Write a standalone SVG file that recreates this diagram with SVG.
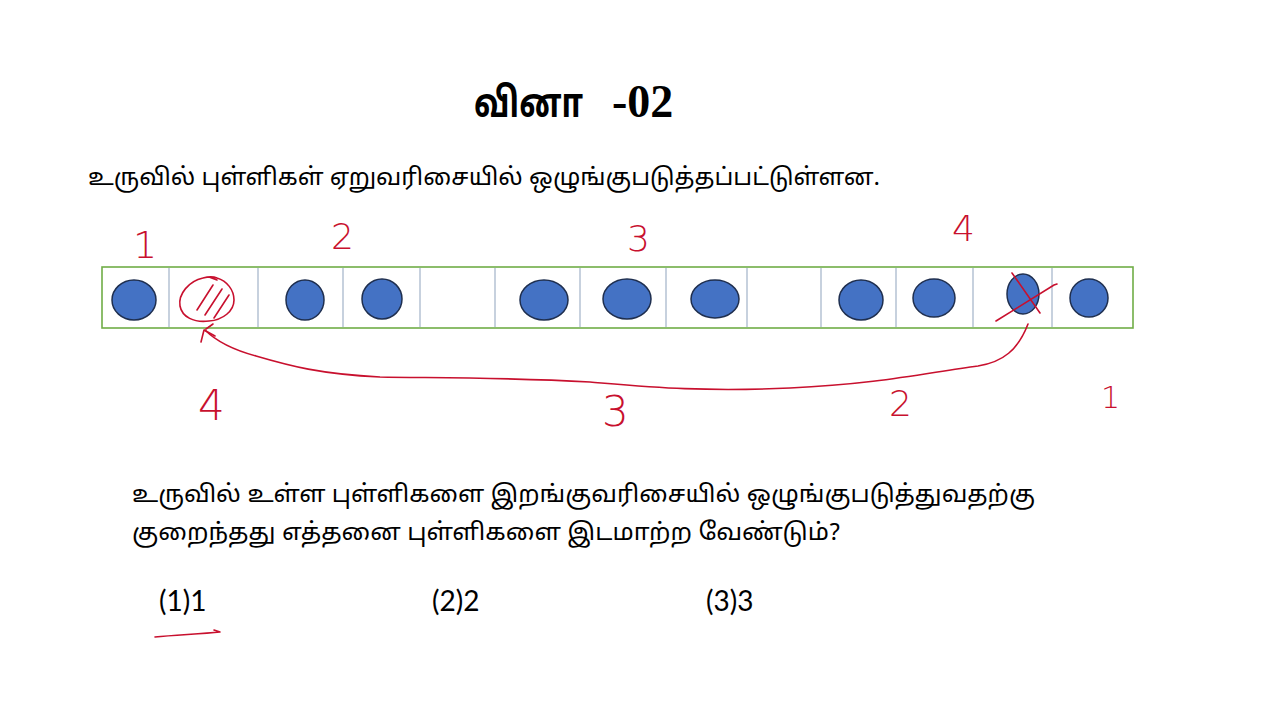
<svg xmlns="http://www.w3.org/2000/svg" width="1280" height="720" viewBox="0 0 1280 720">
<style>
.tam{font-family:"Noto Sans Tamil","Noto Serif Tamil","Liberation Serif","Noto Sans",sans-serif;fill:#000}
.opt{font-family:Lato,"Open Sans","Liberation Sans",sans-serif;font-size:28px;fill:#000}
.dot{fill:#4472C4;stroke:#1F2F4F;stroke-width:1.5}
.div{stroke:#A9B8CC;stroke-width:1.3}
.ink{fill:none;stroke:#C8102E;stroke-width:1.6;stroke-linecap:round;stroke-linejoin:round}
.hw{font-family:"DejaVu Sans","Liberation Sans",sans-serif;font-weight:100;fill:#C8102E}
</style>
<rect width="1280" height="720" fill="#fff"/>
<g id="title">
<text transform="translate(474,117) scale(0.76,1)" class="tam" font-size="41" font-weight="bold">வினா</text>
<text x="612" y="117" font-family="Liberation Serif,serif" font-size="46" font-weight="bold">-02</text>
</g>
<g id="statement">
<text x="88" y="185" class="tam" font-size="24" textLength="792" lengthAdjust="spacingAndGlyphs">உருவில் புள்ளிகள் ஏறுவரிசையில் ஒழுங்குபடுத்தப்பட்டுள்ளன.</text>
</g>
<g id="strip">
<rect x="102" y="267" width="1031" height="61" fill="#fff" stroke="#70AD47" stroke-width="1.6"/>
<g id="dividers">
<line class="div" x1="169" y1="268" x2="169" y2="327"/>
<line class="div" x1="258" y1="268" x2="258" y2="327"/>
<line class="div" x1="343" y1="268" x2="343" y2="327"/>
<line class="div" x1="420" y1="268" x2="420" y2="327"/>
<line class="div" x1="495" y1="268" x2="495" y2="327"/>
<line class="div" x1="580" y1="268" x2="580" y2="327"/>
<line class="div" x1="666" y1="268" x2="666" y2="327"/>
<line class="div" x1="747" y1="268" x2="747" y2="327"/>
<line class="div" x1="821" y1="268" x2="821" y2="327"/>
<line class="div" x1="896" y1="268" x2="896" y2="327"/>
<line class="div" x1="973" y1="268" x2="973" y2="327"/>
<line class="div" x1="1052" y1="268" x2="1052" y2="327"/>
</g>
</g>
<g id="dot1"><ellipse class="dot" cx="134" cy="300" rx="22" ry="20"/></g>
<g id="dot2"><path class="ink" d="M203 278 C189 281 178 294 180 306 C182 317 194 323 209 321 C223 320 234 311 234 300 C234 290 227 281 217 278 C212 276 207 277 203 278 M197 310 L213 285 M205 315 L222 289 M214 318 L229 295 M209 277 L217 280"/></g>
<g id="dot3"><ellipse class="dot" cx="305" cy="300" rx="19" ry="20"/></g>
<g id="dot4"><ellipse class="dot" cx="382" cy="299" rx="20" ry="20"/></g>
<g id="dot6"><ellipse class="dot" cx="544" cy="300" rx="24" ry="20"/></g>
<g id="dot7"><ellipse class="dot" cx="627" cy="299" rx="24" ry="20"/></g>
<g id="dot8"><ellipse class="dot" cx="715" cy="299" rx="24" ry="19"/></g>
<g id="dot10"><ellipse class="dot" cx="861" cy="300" rx="22" ry="20"/></g>
<g id="dot11"><ellipse class="dot" cx="934" cy="298" rx="21" ry="19"/></g>
<g id="dot12"><ellipse class="dot" cx="1023" cy="294" rx="16" ry="20"/>
<path class="ink" d="M1012 273 L1040 313 M996 321 L1054 285 L1057 284"/></g>
<g id="dot13"><ellipse class="dot" cx="1089" cy="298" rx="19" ry="19"/></g>
<g id="labels-top">
<text class="hw" x="133" y="258" font-size="38">1</text>
<text class="hw" x="331" y="249" font-size="36">2</text>
<text class="hw" x="627" y="251" font-size="36">3</text>
<text class="hw" x="952" y="241" font-size="36">4</text>
</g>
<g id="labels-bottom">
<text class="hw" x="198" y="420" font-size="42">4</text>
<text class="hw" x="602" y="426" font-size="42">3</text>
<text class="hw" x="889" y="416" font-size="36">2</text>
<text class="hw" x="1101" y="408" font-size="30">1</text>
</g>
<g id="connectors">
<path class="ink" d="M1028 324 C1018 350 1003 362 978 366 C930 372 880 384 790 388 C700 392 650 387 590 382 C500 377 430 378 380 377 C320 374 290 366 256 356 C230 349 215 340 205 330"/>
<path class="ink" d="M201 342 L204 330 L215 336 M206 329 L213 324"/>
</g>
<g id="question">
<text x="132" y="502" class="tam" font-size="24" textLength="903" lengthAdjust="spacingAndGlyphs">உருவில் உள்ள புள்ளிகளை இறங்குவரிசையில் ஒழுங்குபடுத்துவதற்கு</text>
<text x="132" y="540" class="tam" font-size="24" textLength="708" lengthAdjust="spacingAndGlyphs">குறைந்தது எத்தனை புள்ளிகளை இடமாற்ற வேண்டும்?</text>
</g>
<g id="options">
<text class="opt" x="159" y="611">(1)1</text>
<text class="opt" x="432" y="611">(2)2</text>
<text class="opt" x="706" y="611">(3)3</text>
<path class="ink" d="M155 637 C175 635 200 634 220 632 M214 630 L220 632"/>
</g>
</svg>
